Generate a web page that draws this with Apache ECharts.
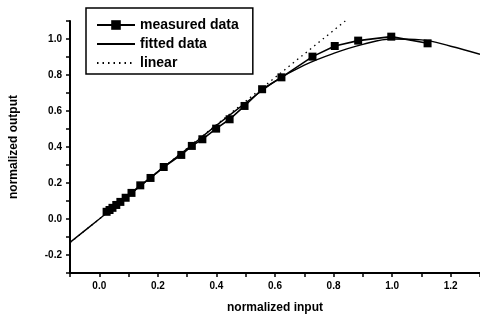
<!DOCTYPE html>
<html>
<head>
<meta charset="utf-8">
<script src="https://cdn.jsdelivr.net/npm/echarts@6/dist/echarts.min.js"></script>
<style>html,body{margin:0;padding:0;background:#fff}#c{width:480px;height:320px}</style>
</head>
<body>
<div id="c"></div>
<script>
const seriesNames = ['measured data', 'fitted data', 'linear'];
const measuredX = [0.025,0.035,0.045,0.058,0.072,0.09,0.11,0.14,0.175,0.22,0.28,0.316,0.352,0.399,0.445,0.496,0.556,0.622,0.728,0.804,0.884,0.997,1.121];
const measuredY = [0.04,0.05,0.062,0.078,0.095,0.118,0.145,0.187,0.228,0.289,0.356,0.406,0.443,0.502,0.554,0.628,0.721,0.787,0.902,0.961,0.991,1.013,0.976];
const fittedX = [-0.1,0,0.1,0.2,0.3,0.4,0.5,0.6,0.7,0.8,0.9,1.0,1.1,1.2,1.3];
const fittedY = [-0.13,0,0.131,0.262,0.39,0.52,0.645,0.765,0.855,0.92,0.97,1.0,0.995,0.96,0.915];
const linearX = [-0.1,0.84];
const linearY = [-0.131,1.1];
const xTickLabels = [0,0.2,0.4,0.6,0.8,1.0,1.2];
const yTickLabels = [-0.2,0,0.2,0.4,0.6,0.8,1.0];
const xTicks = [-0.1,0,0.1,0.2,0.3,0.4,0.5,0.6,0.7,0.8,0.9,1.0,1.1,1.2,1.3];
const yTicks = [-0.3,-0.2,-0.1,0,0.1,0.2,0.3,0.4,0.5,0.6,0.7,0.8,0.9,1.0,1.1];

const zip = (a, b) => a.map((v, i) => [v, b[i]]);
const font = '"Liberation Sans", Arial, sans-serif';
const chart = echarts.init(document.getElementById('c'), null, {renderer: 'canvas'});
chart.setOption({
  animation: false,
  backgroundColor: '#fff',
  grid: {left: 70, right: -1, top: 21, bottom: 47},
  legend: {
    left: 86, top: 8, orient: 'vertical',
    padding: [10, 14, 4, 10],
    itemGap: 5, itemWidth: 38, itemHeight: 12,
    borderColor: '#000', borderWidth: 1.5,
    textStyle: {fontFamily: font, fontWeight: 'bold', fontSize: 14, color: '#000'},
    data: [
      {name: seriesNames[0]},
      {name: seriesNames[1], itemStyle: {opacity: 0}},
      {name: seriesNames[2], itemStyle: {opacity: 0}}
    ]
  },
  xAxis: {
    type: 'value', min: -0.1, max: 1.3,
    name: 'normalized input', nameLocation: 'middle', nameGap: 29,
    nameTextStyle: {fontFamily: font, fontWeight: 'bold', fontSize: 12, color: '#000'},
    splitLine: {show: false},
    axisLine: {onZero: false, lineStyle: {color: '#000', width: 2}},
    axisTick: {length: 4, lineStyle: {color: '#000', width: 1.5}, customValues: xTicks},
    axisLabel: {margin: 8, fontFamily: font, fontWeight: 'bold', fontSize: 10, color: '#000',
      customValues: xTickLabels, formatter: v => v.toFixed(1)}
  },
  yAxis: {
    type: 'value', min: -0.3, max: 1.1,
    name: 'normalized output', nameLocation: 'middle', nameGap: 50,
    nameTextStyle: {fontFamily: font, fontWeight: 'bold', fontSize: 12, color: '#000'},
    splitLine: {show: false},
    axisLine: {onZero: false, lineStyle: {color: '#000', width: 2}},
    axisTick: {length: 4, lineStyle: {color: '#000', width: 1.5}, customValues: yTicks},
    axisLabel: {margin: 8, fontFamily: font, fontWeight: 'bold', fontSize: 10, color: '#000',
      customValues: yTickLabels, formatter: v => v.toFixed(1)}
  },
  series: [
    {name: seriesNames[0], type: 'line', data: zip(measuredX, measuredY),
     symbol: 'rect', symbolSize: 8, showAllSymbol: true,
     lineStyle: {color: '#000', width: 1.6}, itemStyle: {color: '#000'}, z: 3},
    {name: seriesNames[1], type: 'line', data: zip(fittedX, fittedY), smooth: 0.4,
     symbol: 'none', lineStyle: {color: '#000', width: 1.4}, itemStyle: {color: '#000'}, z: 2},
    {name: seriesNames[2], type: 'line', data: zip(linearX, linearY),
     symbol: 'none', lineStyle: {color: '#000', width: 1.3, type: [1.5, 4]}, itemStyle: {color: '#000'}, z: 1}
  ]
});
</script>
</body>
</html>
